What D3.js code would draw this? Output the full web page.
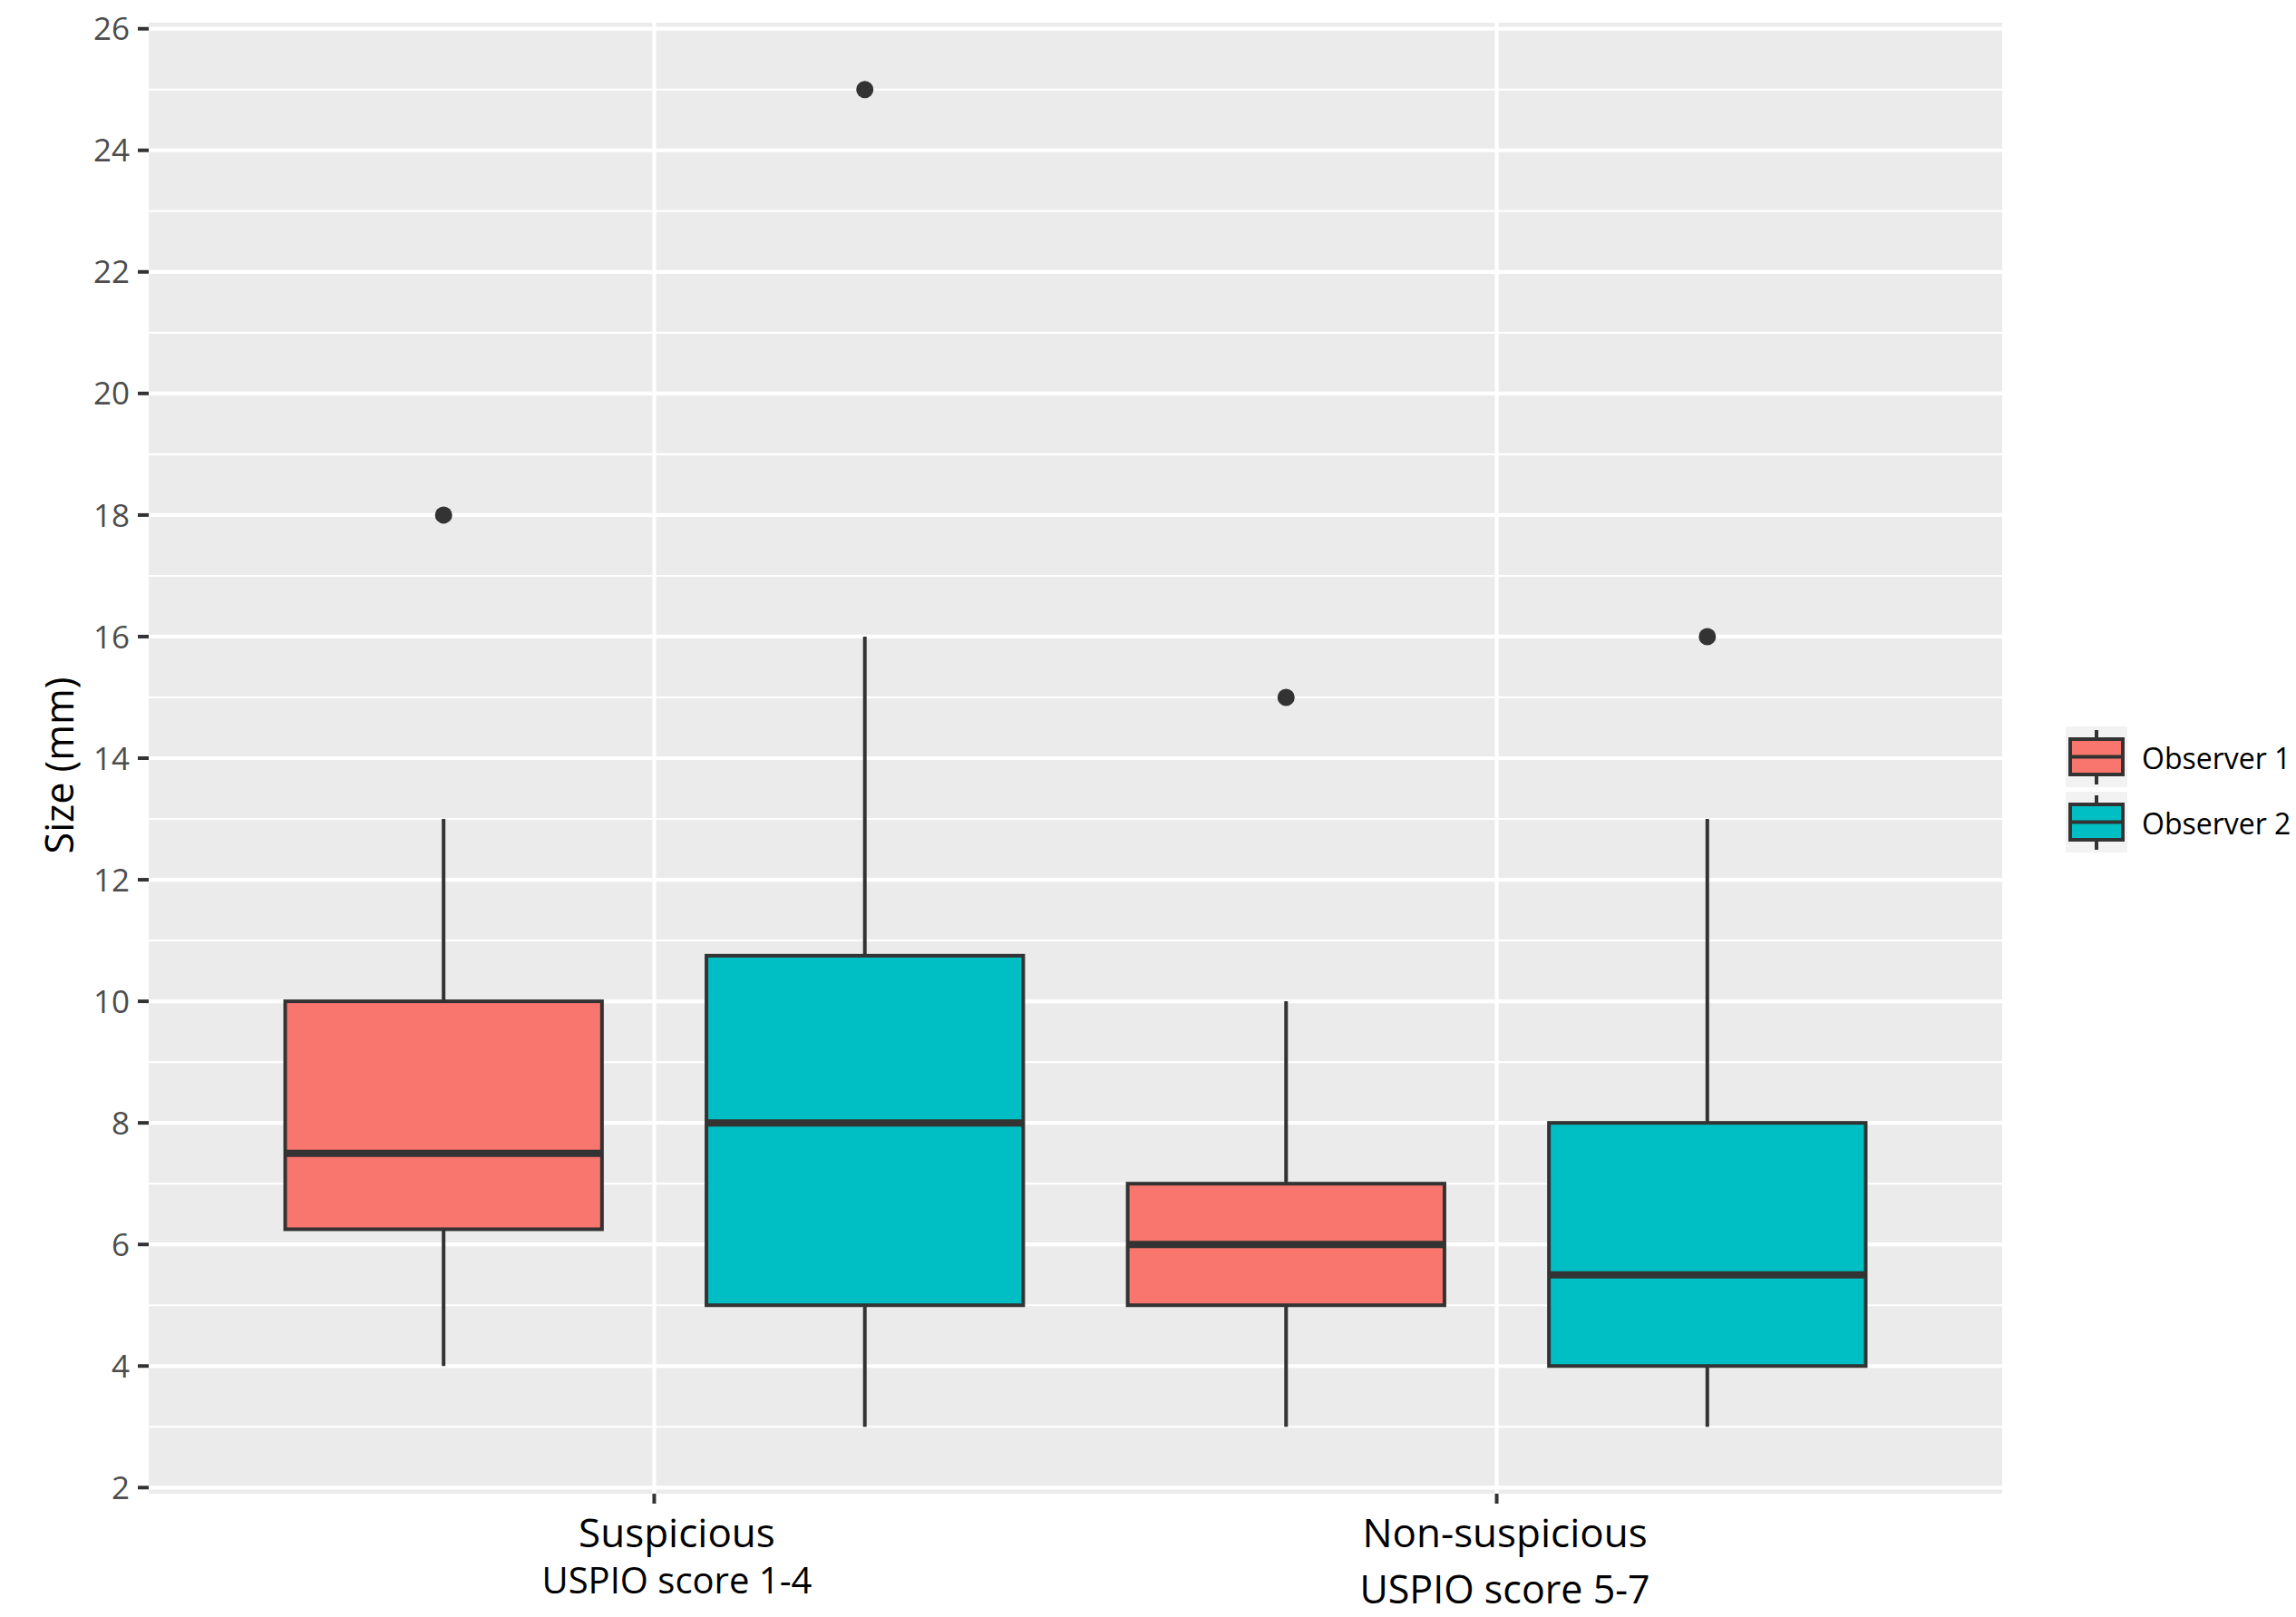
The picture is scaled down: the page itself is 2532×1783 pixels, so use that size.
<!DOCTYPE html>
<html>
<head>
<meta charset="utf-8">
<script src="https://cdn.jsdelivr.net/npm/d3@7"></script>
<style>
  html, body { margin: 0; padding: 0; background: #ffffff; }
  svg { display: block; font-family: "Open Sans", "DejaVu Sans", sans-serif; }
</style>
</head>
<body>
<svg id="chart" width="2532" height="1783"></svg>
<script>
// ---- Data ----
const categories = ["Suspicious", "Non-suspicious"];
const categorySubtitles = ["USPIO score 1-4", "USPIO score 5-7"];
const observers = ["Observer 1", "Observer 2"];
const observerColors = ["#F8766D", "#00BFC4"];

// One entry per (category, observer), order: [cat1-obs1, cat1-obs2, cat2-obs1, cat2-obs2]
const groupCategory = [0, 0, 1, 1];
const groupObserver = [0, 1, 0, 1];
const whiskerLow  = [4, 3, 3, 3];
const q1          = [6.25, 5, 5, 4];
const median      = [7.5, 8, 6, 5.5];
const q3          = [10, 10.75, 7, 8];
const whiskerHigh = [13, 16, 10, 13];
const outliers    = [[18], [25], [15], [16]];

const yTicks = [2, 4, 6, 8, 10, 12, 14, 16, 18, 20, 22, 24, 26];
const yMinor = [3, 5, 7, 9, 11, 13, 15, 17, 19, 21, 23, 25];
const yTitle = "Size (mm)";

// ---- Layout ----
const panel = { left: 164, right: 2208, top: 25, bottom: 1647 };
const svg = d3.select("#chart");

const x = d3.scaleLinear().domain([0.4, 2.6]).range([panel.left, panel.right]);
const y = d3.scaleLinear().domain([1.9, 26.1]).range([panel.bottom, panel.top]);

const dodge = 0.25, halfW = 0.188;
const ink = "#333333";

// Panel background
svg.append("rect")
  .attr("x", panel.left).attr("y", panel.top)
  .attr("width", panel.right - panel.left).attr("height", panel.bottom - panel.top)
  .attr("fill", "#EBEBEB");

// Minor gridlines
svg.append("g").selectAll("line").data(yMinor).join("line")
  .attr("x1", panel.left).attr("x2", panel.right)
  .attr("y1", d => y(d)).attr("y2", d => y(d))
  .attr("stroke", "#ffffff").attr("stroke-width", 2.1);

// Major gridlines
svg.append("g").selectAll("line").data(yTicks).join("line")
  .attr("x1", panel.left).attr("x2", panel.right)
  .attr("y1", d => y(d)).attr("y2", d => y(d))
  .attr("stroke", "#ffffff").attr("stroke-width", 4.2);

svg.append("g").selectAll("line").data(categories).join("line")
  .attr("x1", (d, i) => x(i + 1)).attr("x2", (d, i) => x(i + 1))
  .attr("y1", panel.top).attr("y2", panel.bottom)
  .attr("stroke", "#ffffff").attr("stroke-width", 4.2);

// Boxplots
const groups = d3.range(median.length).map(i => ({
  cx: groupCategory[i] + 1 + (groupObserver[i] === 0 ? -dodge : dodge),
  color: observerColors[groupObserver[i]],
  lo: whiskerLow[i], q1: q1[i], med: median[i], q3: q3[i], hi: whiskerHigh[i],
  out: outliers[i]
}));

const gb = svg.append("g");
groups.forEach(g => {
  const cx = x(g.cx);
  gb.append("line").attr("x1", cx).attr("x2", cx)
    .attr("y1", y(g.q3)).attr("y2", y(g.hi))
    .attr("stroke", ink).attr("stroke-width", 4);
  gb.append("line").attr("x1", cx).attr("x2", cx)
    .attr("y1", y(g.q1)).attr("y2", y(g.lo))
    .attr("stroke", ink).attr("stroke-width", 4);
  gb.append("rect")
    .attr("x", x(g.cx - halfW)).attr("width", x(g.cx + halfW) - x(g.cx - halfW))
    .attr("y", y(g.q3)).attr("height", y(g.q1) - y(g.q3))
    .attr("fill", g.color).attr("stroke", ink).attr("stroke-width", 4);
  gb.append("line")
    .attr("x1", x(g.cx - halfW)).attr("x2", x(g.cx + halfW))
    .attr("y1", y(g.med)).attr("y2", y(g.med))
    .attr("stroke", ink).attr("stroke-width", 8);
  g.out.forEach(o => {
    gb.append("circle").attr("cx", cx).attr("cy", y(o)).attr("r", 9.5).attr("fill", ink);
  });
});

// Y axis ticks + labels
const ya = svg.append("g");
ya.selectAll("line").data(yTicks).join("line")
  .attr("x1", panel.left - 12).attr("x2", panel.left)
  .attr("y1", d => y(d)).attr("y2", d => y(d))
  .attr("stroke", ink).attr("stroke-width", 4);
ya.selectAll("text").data(yTicks).join("text")
  .attr("x", 143).attr("y", d => y(d)).attr("dy", "0.36em")
  .attr("text-anchor", "end").attr("font-size", 35).attr("fill", "#4D4D4D")
  .text(d => d);

// Y title
svg.append("text")
  .attr("transform", `translate(81, ${(panel.top + panel.bottom) / 2 + 8}) rotate(-90)`)
  .attr("text-anchor", "middle").attr("font-size", 43).attr("fill", "#000")
  .text(yTitle);

// X axis ticks + labels
const xa = svg.append("g");
xa.selectAll("line").data(categories).join("line")
  .attr("x1", (d, i) => x(i + 1)).attr("x2", (d, i) => x(i + 1))
  .attr("y1", panel.bottom).attr("y2", panel.bottom + 11)
  .attr("stroke", ink).attr("stroke-width", 4);
const labelShift = [25, 9];
const subSize = [40, 43];
const subBaseline = [1757, 1768];
categories.forEach((c, i) => {
  xa.append("text").attr("x", x(i + 1) + labelShift[i]).attr("y", 1706)
    .attr("text-anchor", "middle").attr("font-size", 44).attr("fill", "#000").text(c);
  xa.append("text").attr("x", x(i + 1) + labelShift[i]).attr("y", subBaseline[i])
    .attr("text-anchor", "middle").attr("font-size", subSize[i]).attr("fill", "#000").text(categorySubtitles[i]);
});

// Legend
const leg = svg.append("g");
const keyX = 2278, keyW = 68, keyH = 67, keyTops = [801, 873];
observers.forEach((o, i) => {
  const top = keyTops[i];
  const cx = keyX + keyW / 2;
  leg.append("rect").attr("x", keyX).attr("y", top).attr("width", keyW).attr("height", keyH).attr("fill", "#F2F2F2");
  leg.append("line").attr("x1", cx).attr("x2", cx).attr("y1", top + 4).attr("y2", top + keyH - 3)
    .attr("stroke", ink).attr("stroke-width", 4);
  leg.append("rect").attr("x", keyX + 5).attr("y", top + 14).attr("width", keyW - 10).attr("height", 39)
    .attr("fill", observerColors[i]).attr("stroke", ink).attr("stroke-width", 4);
  leg.append("line").attr("x1", keyX + 5).attr("x2", keyX + keyW - 5).attr("y1", top + 33.5).attr("y2", top + 33.5)
    .attr("stroke", ink).attr("stroke-width", 4);
  leg.append("text").attr("x", 2362).attr("y", top + 47)
    .attr("font-size", 32).attr("fill", "#000")
    .text(o);
});
</script>
</body>
</html>
